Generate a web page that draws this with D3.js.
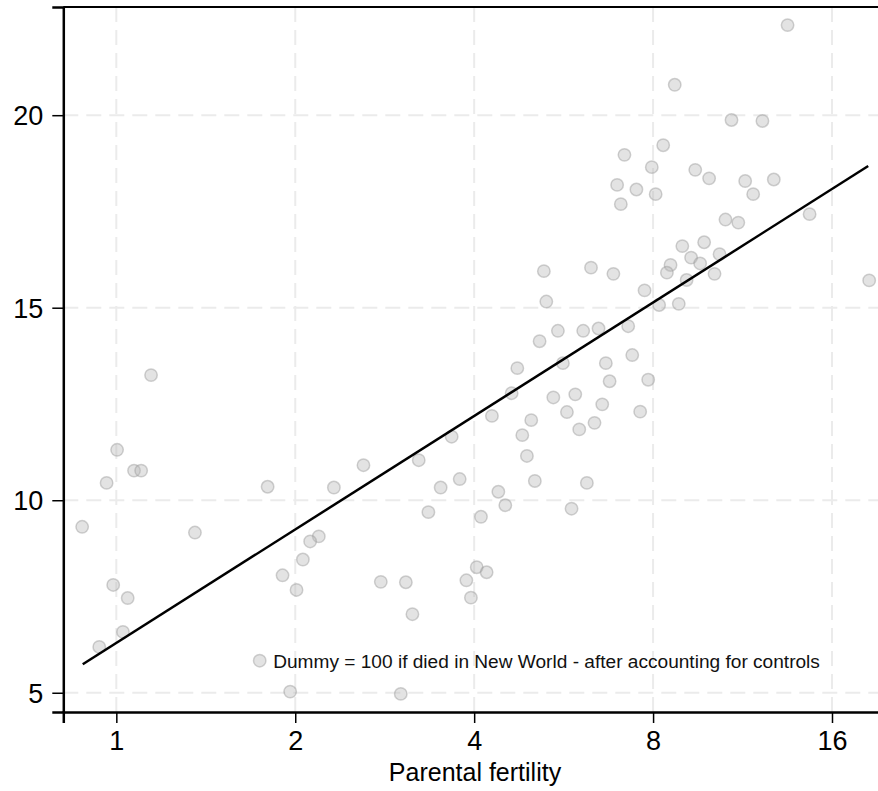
<!DOCTYPE html>
<html>
<head>
<meta charset="utf-8">
<script src="https://cdn.jsdelivr.net/npm/d3@7"></script>
<style>
  body { margin: 0; background: #fff; }
  svg { display: block; font-family: "Liberation Sans", Arial, Helvetica, sans-serif; }
</style>
</head>
<body>
<div id="chart"></div>
<script>
// parental fertility (log2 axis) and dummy value
let parentalFertility = [
    1.144, 1.003, 0.963, 1.071, 1.101, 1.797, 0.876, 1.356, 0.988, 1.045,
    1.904, 2.01, 2.06, 1.026, 0.936, 1.961, 2.786, 3.07, 3.149, 3.01,
    3.881, 4.04, 4.198, 3.95, 2.323, 2.605, 3.227, 3.666, 4.285, 4.625,
    4.728, 5.154, 5.29, 4.99, 4.82, 4.907, 5.06, 3.513, 3.782, 3.35,
    4.393, 4.513, 4.107, 2.191, 2.119, 5.533, 6.103, 6.476, 7.265, 8.19,
    8.837, 5.641, 6.662, 7.38, 6.76, 7.85, 5.436, 5.918, 6.57, 5.73,
    7.61, 6.376, 6.01, 6.19, 5.833, 8.70, 10.84, 12.22, 8.32, 7.16,
    7.96, 6.96, 7.50, 8.08, 7.06, 9.42, 9.94, 11.43, 12.77, 11.79,
    14.67, 10.59, 11.13, 8.96, 9.75, 9.27, 9.60, 8.56, 8.44, 10.35,
    10.15, 9.11, 18.48, 5.24, 6.29, 6.86, 7.74, 13.47
];
let diedNewWorld = [
    13.25, 11.31, 10.45, 10.77, 10.77, 10.35, 9.31, 9.16, 7.80, 7.46,
    8.05, 7.67, 8.46, 6.58, 6.19, 5.03, 7.88, 7.87, 7.04, 4.97,
    7.92, 8.26, 8.13, 7.47, 10.33, 10.91, 11.04, 11.65, 12.19, 12.78,
    13.43, 14.13, 15.16, 12.08, 11.69, 11.15, 10.50, 10.33, 10.55, 9.69,
    10.22, 9.87, 9.57, 9.06, 8.93, 14.40, 14.40, 14.46, 14.52, 15.07,
    15.10, 13.56, 13.56, 13.77, 13.09, 13.13, 12.67, 12.75, 12.49, 12.29,
    12.30, 12.01, 11.84, 10.45, 9.78, 20.79, 19.875, 19.85, 19.22, 18.97,
    18.65, 18.19, 18.07, 17.95, 17.69, 18.58, 18.36, 18.29, 18.33, 17.95,
    17.43, 17.29, 17.21, 16.60, 16.70, 16.30, 16.15, 16.11, 15.91, 16.39,
    15.88, 15.72, 15.71, 15.95, 16.04, 15.88, 15.45, 22.34
];
// fitted line end points
let fitX = [0.878, 18.41];
let fitY = [5.74, 18.68];

let xTicks = [1, 2, 4, 8, 16];
let yTicks = [5, 10, 15, 20];
let legendText = "Dummy = 100 if died in New World - after accounting for controls";
let xTitle = "Parental fertility";

let width = 878, height = 791;
let plot = {left: 63.3, right: 887, top: 7, bottom: 712};

let svg = d3.select("#chart").append("svg")
    .attr("width", width)
    .attr("height", height);

let x = d3.scaleLog().base(2).domain([0.8143, 19.8]).range([plot.left, plot.right]);
let y = d3.scaleLinear().domain([4.5, 22.81]).range([plot.bottom, plot.top]);

// grid
let grid = svg.append("g").attr("class", "grid")
    .attr("stroke", "#ebebeb")
    .attr("stroke-width", 2)
    .attr("stroke-dasharray", "15,8");
grid.selectAll("line.v").data(xTicks).enter().append("line")
    .attr("class", "v")
    .attr("x1", d => x(d)).attr("x2", d => x(d))
    .attr("y1", plot.bottom).attr("y2", plot.top);
grid.selectAll("line.h").data(yTicks).enter().append("line")
    .attr("class", "h")
    .attr("y1", d => y(d)).attr("y2", d => y(d))
    .attr("x1", plot.left).attr("x2", plot.right);

function marker(sel) {
    sel.attr("r", 6.2)
        .attr("fill", "#b5b5b5")
        .attr("fill-opacity", 0.38)
        .attr("stroke", "#999")
        .attr("stroke-opacity", 0.45)
        .attr("stroke-width", 1.5);
}

// points
let points = parentalFertility.map((d, i) => ({x: d, y: diedNewWorld[i]}));
svg.append("g").selectAll("circle").data(points).enter().append("circle")
    .attr("cx", d => x(d.x))
    .attr("cy", d => y(d.y))
    .call(marker);

// fit line
svg.append("path")
    .datum(fitX.map((d, i) => [d, fitY[i]]))
    .attr("fill", "none")
    .attr("stroke", "#000")
    .attr("stroke-width", 2.5)
    .attr("d", d3.line().x(d => x(d[0])).y(d => y(d[1])));

// legend inside plot
let legend = svg.append("g").attr("transform", "translate(259.7,660.7)");
legend.append("circle").call(marker);
legend.append("text")
    .attr("x", 13.5)
    .attr("y", 7)
    .attr("font-size", "19.1px")
    .attr("fill", "#111")
    .text(legendText);

// frame top line
svg.append("line")
    .attr("x1", plot.left).attr("x2", plot.right)
    .attr("y1", plot.top).attr("y2", plot.top)
    .attr("stroke", "#000").attr("stroke-width", 2);

// axes
let xAxis = svg.append("g")
    .attr("transform", `translate(0,${plot.bottom})`)
    .call(d3.axisBottom(x).tickValues(xTicks).tickFormat(d3.format("d")).tickSize(11).tickPadding(8));
let yAxis = svg.append("g")
    .attr("transform", `translate(${plot.left},0)`)
    .call(d3.axisLeft(y).tickValues(yTicks).tickFormat(d3.format("d")).tickSize(11).tickPadding(9));

[xAxis, yAxis].forEach(a => {
    a.select(".domain").attr("stroke", "#000").attr("stroke-width", 2.5);
    a.selectAll(".tick line").attr("stroke", "#000").attr("stroke-width", 1.5);
    a.selectAll(".tick text")
        .attr("font-family", "Liberation Sans, Arial, Helvetica, sans-serif")
        .attr("font-size", "27px")
        .attr("fill", "#000");
});
yAxis.selectAll(".tick text").attr("dy", "0.35em");

svg.append("text")
    .attr("x", 475)
    .attr("y", 781)
    .attr("text-anchor", "middle")
    .attr("font-size", "25px")
    .attr("fill", "#000")
    .text(xTitle);
</script>
</body>
</html>
